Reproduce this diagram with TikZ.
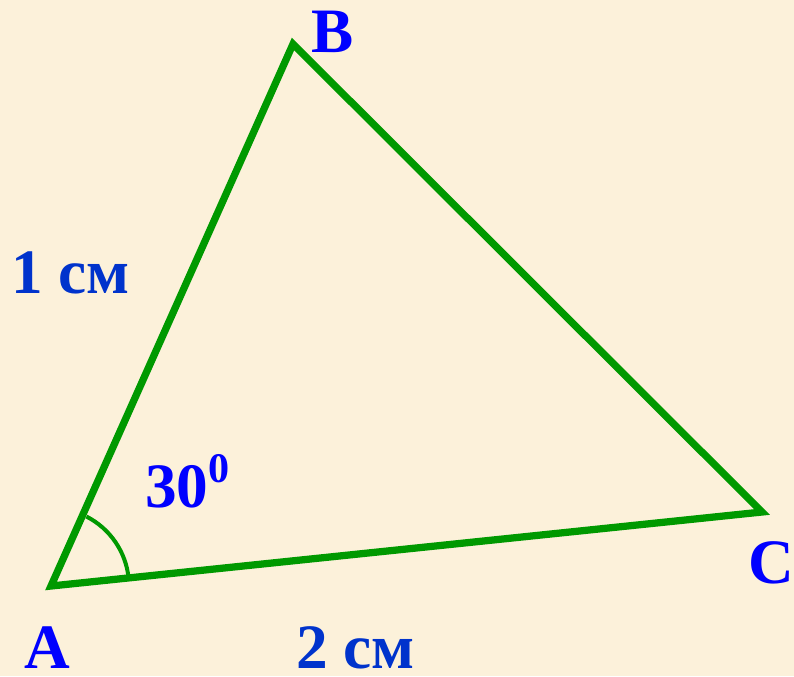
\documentclass[tikz,border=0pt]{standalone}
\usepackage{fontspec}
\setmainfont{Liberation Serif}

\definecolor{paper}{RGB}{252,241,218}
\definecolor{sidegreen}{RGB}{0,153,0}
\definecolor{vblue}{RGB}{0,0,255}
\definecolor{lblue}{RGB}{0,51,204}

\begin{document}
\begin{tikzpicture}[
  x=0.2mm, y=-0.2mm,
  side/.style    = {line width=1.45mm, sidegreen, line join=miter},
  anglemark/.style = {line width=0.8mm, sidegreen},
  vertex/.style  = {inner sep=0pt, anchor=base west, text=vblue, text depth=0pt,
                    font=\fontsize{36}{40}\selectfont\bfseries},
  length/.style  = {inner sep=0pt, anchor=base west, text=lblue, text depth=0pt,
                    font=\fontsize{36}{40}\selectfont\bfseries},
]
  \fill[paper] (0,0) rectangle (794,676);
  \useasboundingbox (0,0) rectangle (794,676);

  \coordinate (A) at (51,586);
  \coordinate (B) at (293,44);
  \coordinate (C) at (762,512);

  % the three sides
  \draw[side] (A) -- (B) -- (C) -- cycle;

  % the angle at A
  \draw[anglemark] (A) ++(-6:78) arc[start angle=-6, end angle=-63, radius=78];

  \node[vertex] (lblA) at (24,668) {A};
  \node[vertex] (lblB) at (311,52) {B};
  \node[vertex] (lblC) at (748,583) {C};

  \node[length] (lenAB) at (11,293) {1 см};
  \node[length] (lenAC) at (296,668) {2 см};
  \node[vertex] (ang) at (145,507)
    {30\raisebox{14pt}{\fontsize{24}{24}\selectfont 0}};
\end{tikzpicture}
\end{document}
